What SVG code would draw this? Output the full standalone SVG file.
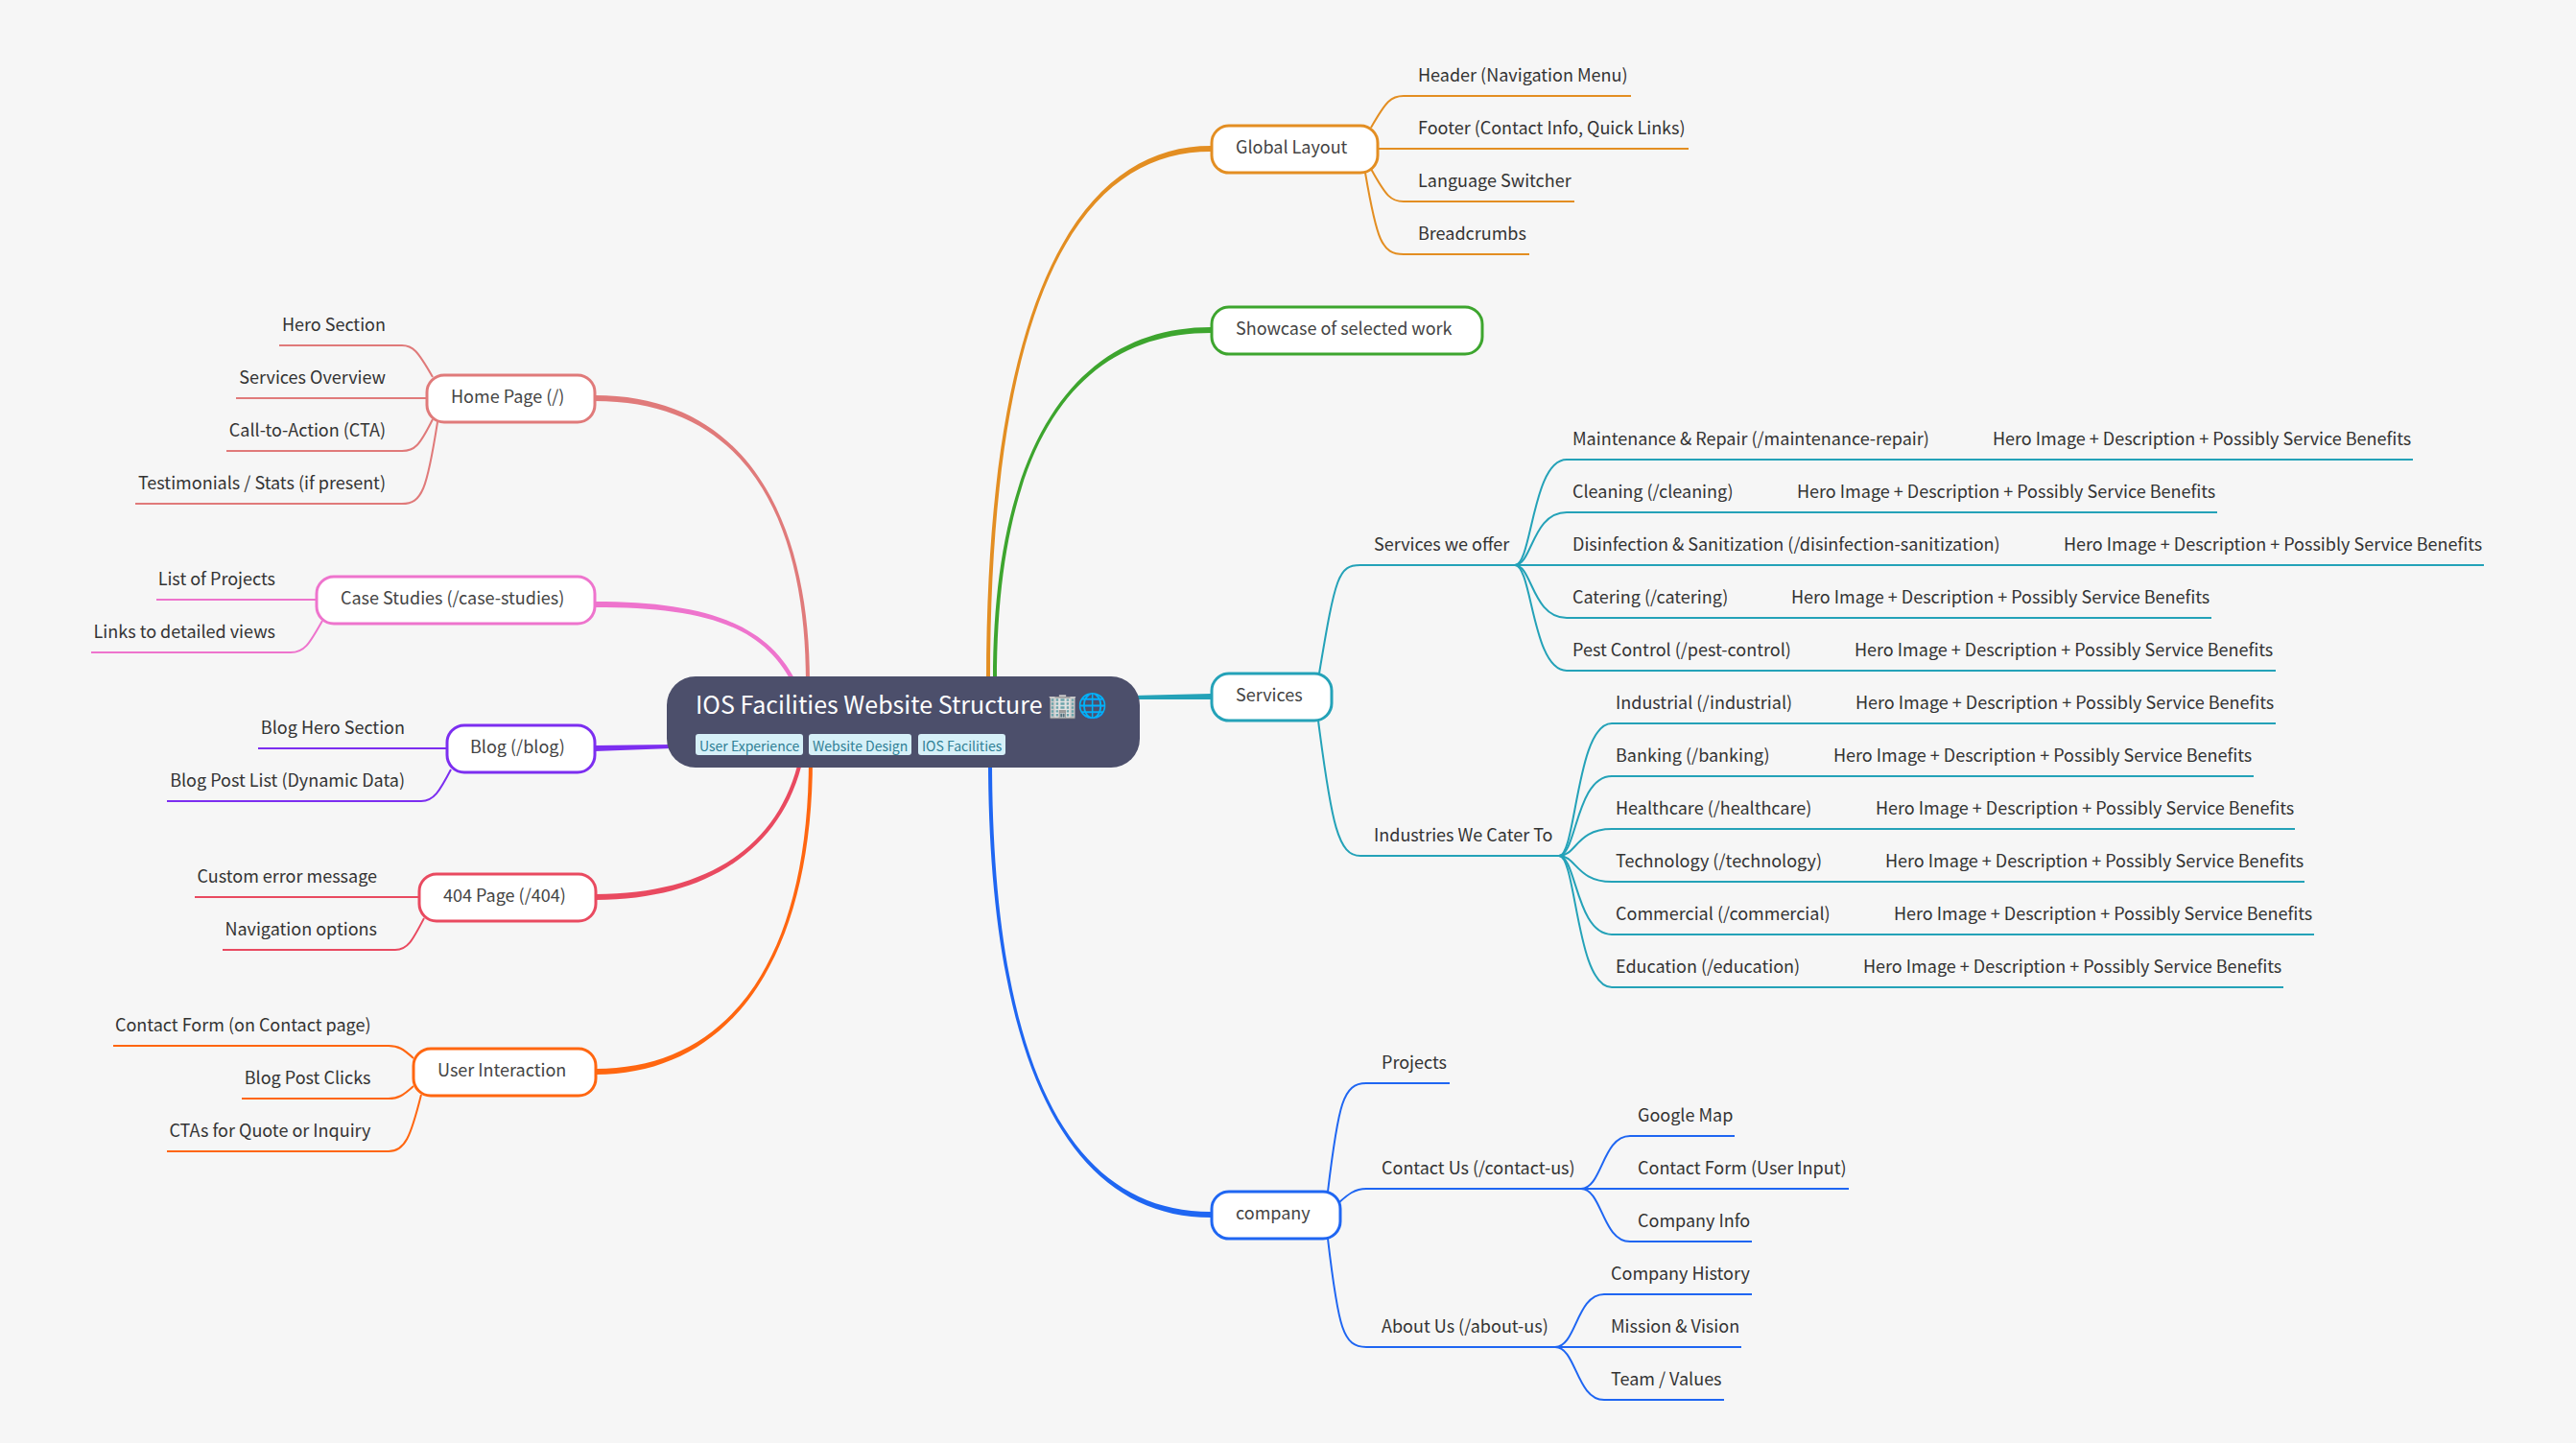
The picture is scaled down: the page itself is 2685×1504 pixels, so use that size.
<svg xmlns="http://www.w3.org/2000/svg" width="2685" height="1504" viewBox="0 0 2685 1504">
<style>
text{font-family:"Noto Sans CJK SC","Noto Sans",sans-serif;font-size:18px;fill:#333}
.n text{fill:#444}
.end{text-anchor:end}
.l{fill:none;stroke-width:2}
.n rect{fill:#fff;stroke-width:3}
.o{stroke:#e38e22}.g{stroke:#3da52e}.t{stroke:#24a2b8}.b{stroke:#1f66f2}.h{stroke:#e07a7a}.p{stroke:#ee74cd}.v{stroke:#7c2ef0}.r{stroke:#e94a60}.y{stroke:#ff6610}
.tag rect{fill:#d6f0f8}
.tag text{font-size:14px;fill:#2f7f95}
</style>
<rect width="2685" height="1504" fill="#f6f6f6"/>
<g id="connectors">
<g id="main" stroke="none">
<path fill="#e38e22" d="M1262 152C1130 152 1028 300 1028 710L1032 710C1032 300 1130 158 1262 158Z"/>
<path fill="#3da52e" d="M1262 341C1130 341 1035 450 1035 710L1039 710C1039 450 1130 347 1262 347Z"/>
<path fill="#24a2b8" d="M1262 723L1180 725L1180 729L1262 729Z"/>
<path fill="#1f66f2" d="M1262 1263C1110 1263 1034 1100 1034 790L1030 790C1030 1100 1110 1269 1262 1269Z"/>
<path fill="#e07a7a" d="M620 412C790 412 844 560 844 710L840 710C840 560 790 418 620 418Z"/>
<path fill="#ee74cd" d="M620 627C735 627 802 650 832 715L828 717C798 652 735 633 620 633Z"/>
<path fill="#7c2ef0" d="M620 777L700 776L700 780L620 783Z"/>
<path fill="#e94a60" d="M621 932C740 932 813 880 833 790L837 791C817 882 740 938 621 938Z"/>
<path fill="#ff6610" d="M621 1114C760 1114 843 1000 843 790L847 790C847 1000 760 1120 621 1120Z"/>
</g>
<g id="global-branches">
<path class="l o" d="M1429 133C1445 105 1450 100 1463 100H1700"/>
<path class="l o" d="M1436 155H1760"/>
<path class="l o" d="M1429 176C1445 205 1450 210 1463 210H1641"/>
<path class="l o" d="M1423 180C1435 250 1440 265 1463 265H1594"/>
</g>
<g id="services-branches">
<path class="l t" d="M1375 702C1392 600 1395 589 1418 589H1579"/>
<path class="l t" d="M1374 751C1388 860 1395 892 1418 892H1627"/>
<path class="l t" d="M1579 589C1597 589 1597 479 1633 479H2515"/>
<path class="l t" d="M1579 589C1597 589 1597 534 1633 534H2311"/>
<path class="l t" d="M1579 589H2589"/>
<path class="l t" d="M1579 589C1597 589 1597 644 1633 644H2305"/>
<path class="l t" d="M1579 589C1597 589 1597 699 1633 699H2372"/>
<path class="l t" d="M1625 892C1643 892 1643 754 1680 754H2372"/>
<path class="l t" d="M1625 892C1643 892 1643 809 1680 809H2349"/>
<path class="l t" d="M1625 892C1643 892 1643 864 1680 864H2392"/>
<path class="l t" d="M1625 892C1643 892 1643 919 1680 919H2402"/>
<path class="l t" d="M1625 892C1643 892 1643 974 1680 974H2412"/>
<path class="l t" d="M1625 892C1643 892 1643 1029 1680 1029H2380"/>
</g>
<g id="company-branches">
<path class="l b" d="M1384 1242C1395 1150 1400 1129 1424 1129H1511"/>
<path class="l b" d="M1396 1253C1405 1245 1412 1239 1424 1239H1927"/>
<path class="l b" d="M1384 1291C1395 1385 1400 1404 1424 1404H1815"/>
<path class="l b" d="M1648 1239C1670 1239 1670 1184 1699 1184H1808"/>
<path class="l b" d="M1648 1239C1670 1239 1670 1294 1699 1294H1826"/>
<path class="l b" d="M1621 1404C1643 1404 1643 1349 1672 1349H1826"/>
<path class="l b" d="M1621 1404C1643 1404 1643 1459 1672 1459H1797"/>
</g>
<g id="left-branches">
<path class="l h" d="M451 393C435 365 430 360 419 360H291"/>
<path class="l h" d="M445 415H246"/>
<path class="l h" d="M451 437C437 465 432 470 419 470H236"/>
<path class="l h" d="M456 440C445 510 440 525 419 525H141"/>
<path class="l p" d="M330 625H163"/>
<path class="l p" d="M336 647C322 672 317 680 303 680H95"/>
<path class="l v" d="M466 780H269"/>
<path class="l v" d="M470 802C458 825 452 835 439 835H174"/>
<path class="l r" d="M437 935H203"/>
<path class="l r" d="M442 957C430 980 425 990 412 990H232"/>
<path class="l y" d="M431 1103C420 1093 415 1090 405 1090H118"/>
<path class="l y" d="M431 1132C420 1142 415 1145 405 1145H252"/>
<path class="l y" d="M439 1141C428 1185 422 1200 405 1200H174"/>
</g>
</g>
<g id="root">
<rect x="695" y="705" width="493" height="95" rx="30" fill="#4c4f6b"/>
<text x="725" y="744" style="font-size:25px;fill:#fff">IOS Facilities Website Structure 🏢🌐</text>
<g class="tag"><rect x="725" y="765" width="112" height="22" rx="3"/><text x="729" y="783">User Experience</text></g>
<g class="tag"><rect x="843" y="765" width="107" height="22" rx="3"/><text x="847" y="783">Website Design</text></g>
<g class="tag"><rect x="957" y="765" width="91" height="22" rx="3"/><text x="961" y="783">IOS Facilities</text></g>
</g>
<g id="global-layout" class="n"><rect class="o" x="1263" y="131" width="173" height="49" rx="18"/><text x="1288" y="160">Global Layout</text></g>
<g id="showcase" class="n"><rect class="g" x="1263" y="320" width="282" height="49" rx="18"/><text x="1288" y="349">Showcase of selected work</text></g>
<g id="services" class="n"><rect class="t" x="1263" y="702" width="125" height="49" rx="18"/><text x="1288" y="731">Services</text></g>
<g id="company" class="n"><rect class="b" x="1263" y="1242" width="134" height="49" rx="18"/><text x="1288" y="1271">company</text></g>
<g id="home" class="n"><rect class="h" x="445" y="391" width="175" height="49" rx="18"/><text x="470" y="420">Home Page (/)</text></g>
<g id="case-studies" class="n"><rect class="p" x="330" y="601" width="290" height="49" rx="18"/><text x="355" y="630">Case Studies (/case-studies)</text></g>
<g id="blog" class="n"><rect class="v" x="466" y="756" width="154" height="49" rx="18"/><text x="490" y="785">Blog (/blog)</text></g>
<g id="page-404" class="n"><rect class="r" x="437" y="911" width="184" height="49" rx="18"/><text x="462" y="940">404 Page (/404)</text></g>
<g id="user-interaction" class="n"><rect class="y" x="431" y="1093" width="190" height="49" rx="18"/><text x="456" y="1122">User Interaction</text></g>
<g id="leaves">
<text x="1478" y="85">Header (Navigation Menu)</text>
<text x="1478" y="140">Footer (Contact Info, Quick Links)</text>
<text x="1478" y="195">Language Switcher</text>
<text x="1478" y="250">Breadcrumbs</text>
<text x="1432" y="574">Services we offer</text>
<text x="1432" y="877">Industries We Cater To</text>
<text x="1639" y="464">Maintenance &amp; Repair (/maintenance-repair)</text>
<text x="2077" y="464">Hero Image + Description + Possibly Service Benefits</text>
<text x="1639" y="519">Cleaning (/cleaning)</text>
<text x="1873" y="519">Hero Image + Description + Possibly Service Benefits</text>
<text x="1639" y="574">Disinfection &amp; Sanitization (/disinfection-sanitization)</text>
<text x="2151" y="574">Hero Image + Description + Possibly Service Benefits</text>
<text x="1639" y="629">Catering (/catering)</text>
<text x="1867" y="629">Hero Image + Description + Possibly Service Benefits</text>
<text x="1639" y="684">Pest Control (/pest-control)</text>
<text x="1933" y="684">Hero Image + Description + Possibly Service Benefits</text>
<text x="1684" y="739">Industrial (/industrial)</text>
<text x="1934" y="739">Hero Image + Description + Possibly Service Benefits</text>
<text x="1684" y="794">Banking (/banking)</text>
<text x="1911" y="794">Hero Image + Description + Possibly Service Benefits</text>
<text x="1684" y="849">Healthcare (/healthcare)</text>
<text x="1955" y="849">Hero Image + Description + Possibly Service Benefits</text>
<text x="1684" y="904">Technology (/technology)</text>
<text x="1965" y="904">Hero Image + Description + Possibly Service Benefits</text>
<text x="1684" y="959">Commercial (/commercial)</text>
<text x="1974" y="959">Hero Image + Description + Possibly Service Benefits</text>
<text x="1684" y="1014">Education (/education)</text>
<text x="1942" y="1014">Hero Image + Description + Possibly Service Benefits</text>
<text x="1440" y="1114">Projects</text>
<text x="1440" y="1224">Contact Us (/contact-us)</text>
<text x="1440" y="1389">About Us (/about-us)</text>
<text x="1707" y="1169">Google Map</text>
<text x="1707" y="1224">Contact Form (User Input)</text>
<text x="1707" y="1279">Company Info</text>
<text x="1679" y="1334">Company History</text>
<text x="1679" y="1389">Mission &amp; Vision</text>
<text x="1679" y="1444">Team / Values</text>
<text class="end" x="402" y="345">Hero Section</text>
<text class="end" x="402" y="400">Services Overview</text>
<text class="end" x="402" y="455">Call-to-Action (CTA)</text>
<text class="end" x="402" y="510">Testimonials / Stats (if present)</text>
<text class="end" x="287" y="610">List of Projects</text>
<text class="end" x="287" y="665">Links to detailed views</text>
<text class="end" x="422" y="765">Blog Hero Section</text>
<text class="end" x="422" y="820">Blog Post List (Dynamic Data)</text>
<text class="end" x="393" y="920">Custom error message</text>
<text class="end" x="393" y="975">Navigation options</text>
<text class="end" x="386.500" y="1075">Contact Form (on Contact page)</text>
<text class="end" x="386.500" y="1130">Blog Post Clicks</text>
<text class="end" x="386.500" y="1185">CTAs for Quote or Inquiry</text>
</g>
</svg>
